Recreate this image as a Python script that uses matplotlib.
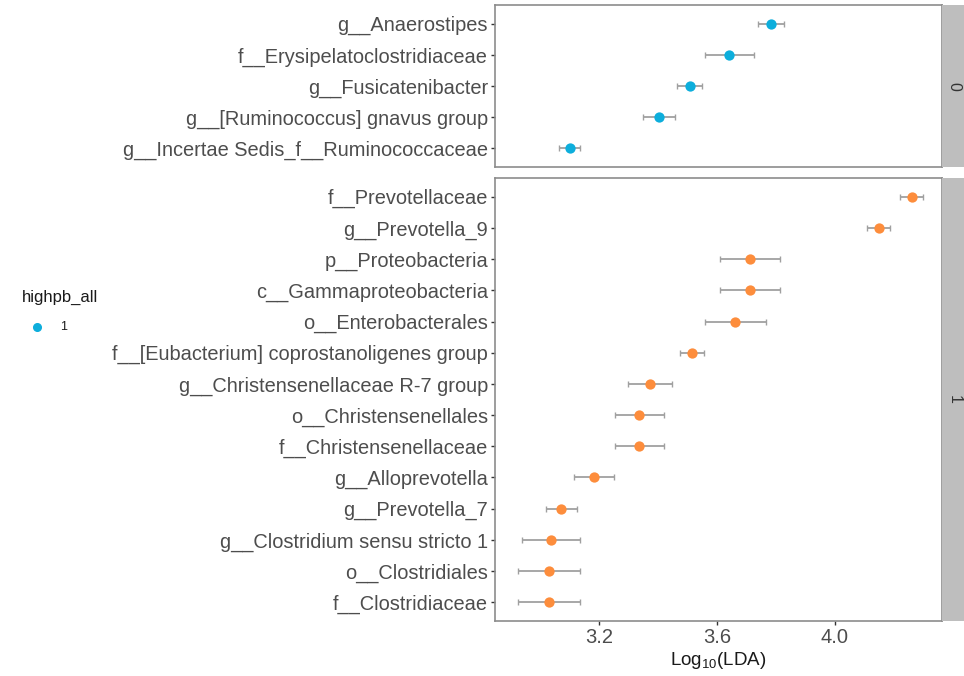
import matplotlib
matplotlib.use("Agg")
import matplotlib.pyplot as plt
from matplotlib.lines import Line2D
import numpy as np

plt.rcParams['font.family'] = ['Liberation Sans', 'DejaVu Sans']
plt.rcParams['mathtext.default'] = 'regular'

# group 0 (top panel), listed top to bottom
taxa_0 = ['g__Anaerostipes', 'f__Erysipelatoclostridiaceae', 'g__Fusicatenibacter',
          'g__[Ruminococcus] gnavus group', 'g__Incertae Sedis_f__Ruminococcaceae']
lda_0 = [3.783, 3.642, 3.508, 3.402, 3.101]
err_0 = [0.044, 0.082, 0.042, 0.054, 0.035]

# group 1 (bottom panel), listed top to bottom
taxa_1 = ['f__Prevotellaceae', 'g__Prevotella_9', 'p__Proteobacteria', 'c__Gammaproteobacteria',
          'o__Enterobacterales', 'f__[Eubacterium] coprostanoligenes group',
          'g__Christensenellaceae R-7 group', 'o__Christensenellales', 'f__Christensenellaceae',
          'g__Alloprevotella', 'g__Prevotella_7', 'g__Clostridium sensu stricto 1',
          'o__Clostridiales', 'f__Clostridiaceae']
lda_1 = [4.260, 4.148, 3.712, 3.712, 3.662, 3.515, 3.374, 3.337, 3.337, 3.184,
         3.072, 3.037, 3.029, 3.029]
err_1 = [0.038, 0.040, 0.103, 0.103, 0.103, 0.042, 0.075, 0.084, 0.084, 0.068,
         0.052, 0.099, 0.105, 0.105]

x_ticks = [3.2, 3.6, 4.0]
blue = '#0DAEDC'
orange = '#FD8D3C'
W, H = 964, 676

fig = plt.figure(figsize=(W / 100, H / 100), dpi=100)


def add_ax(y0, y1):
    return fig.add_axes([495 / W, 1 - y1 / H, 447 / W, (y1 - y0) / H])


def panel(ax, taxa, lda, err, color, strip_label, y0, y1):
    n = len(taxa)
    y = np.arange(n)[::-1]
    ax.errorbar(lda, y, xerr=err, fmt='none', ecolor='#a0a0a0', elinewidth=1.3,
                capsize=2, capthick=1.0, zorder=2)
    ax.scatter(lda, y, s=55, color=color, zorder=3, linewidths=0)
    ax.set_ylim(-0.6, n - 1 + 0.6)
    ax.set_xlim(2.8475, 4.3627)
    ax.set_yticks(y)
    ax.set_yticklabels(taxa, fontsize=14.4, color='#4d4d4d')
    ax.set_xticks(x_ticks)
    ax.tick_params(axis='y', length=3, width=1, color='#333333', pad=2)
    ax.tick_params(axis='x', length=3, width=1, color='#333333', pad=2)
    for sp in ax.spines.values():
        sp.set_color('#8c8c8c')
        sp.set_linewidth(1.2)
    # facet strip on the right
    sax = fig.add_axes([942 / W, 1 - y1 / H, 30 / W, (y1 - y0) / H])
    sax.set_facecolor('#bebebe')
    sax.set_xticks([])
    sax.set_yticks([])
    for sp in sax.spines.values():
        sp.set_visible(False)
    fig.text(954 / W, 1 - (y0 + y1) / 2 / H, strip_label, rotation=-90, ha='center',
             va='center', fontsize=11.5, color='#333333')


ax0 = add_ax(5, 167)
panel(ax0, taxa_0, lda_0, err_0, blue, '0', 5, 167)
ax0.set_xticklabels([])
ax0.tick_params(axis='x', length=0)

ax1 = add_ax(178, 621)
panel(ax1, taxa_1, lda_1, err_1, orange, '1', 178, 621)
ax1.set_xticklabels(['3.2', '3.6', '4.0'], fontsize=14.5, color='#4d4d4d')
ax1.set_xlabel('Log$_{10}$(LDA)', fontsize=13.5, color='#1a1a1a', labelpad=2)

# legend on the left
fig.text(22 / W, 1 - 297 / H, 'highpb_all', fontsize=12, color='#1a1a1a', va='center')
fig.add_artist(Line2D([37 / W], [1 - 327 / H], marker='o', color=blue, markersize=5.5,
                      linestyle='none', transform=fig.transFigure))
fig.text(60 / W, 1 - 327 / H, '1', fontsize=9, color='#1a1a1a', va='center')

fig.savefig('out.png', dpi=100, facecolor='white')
